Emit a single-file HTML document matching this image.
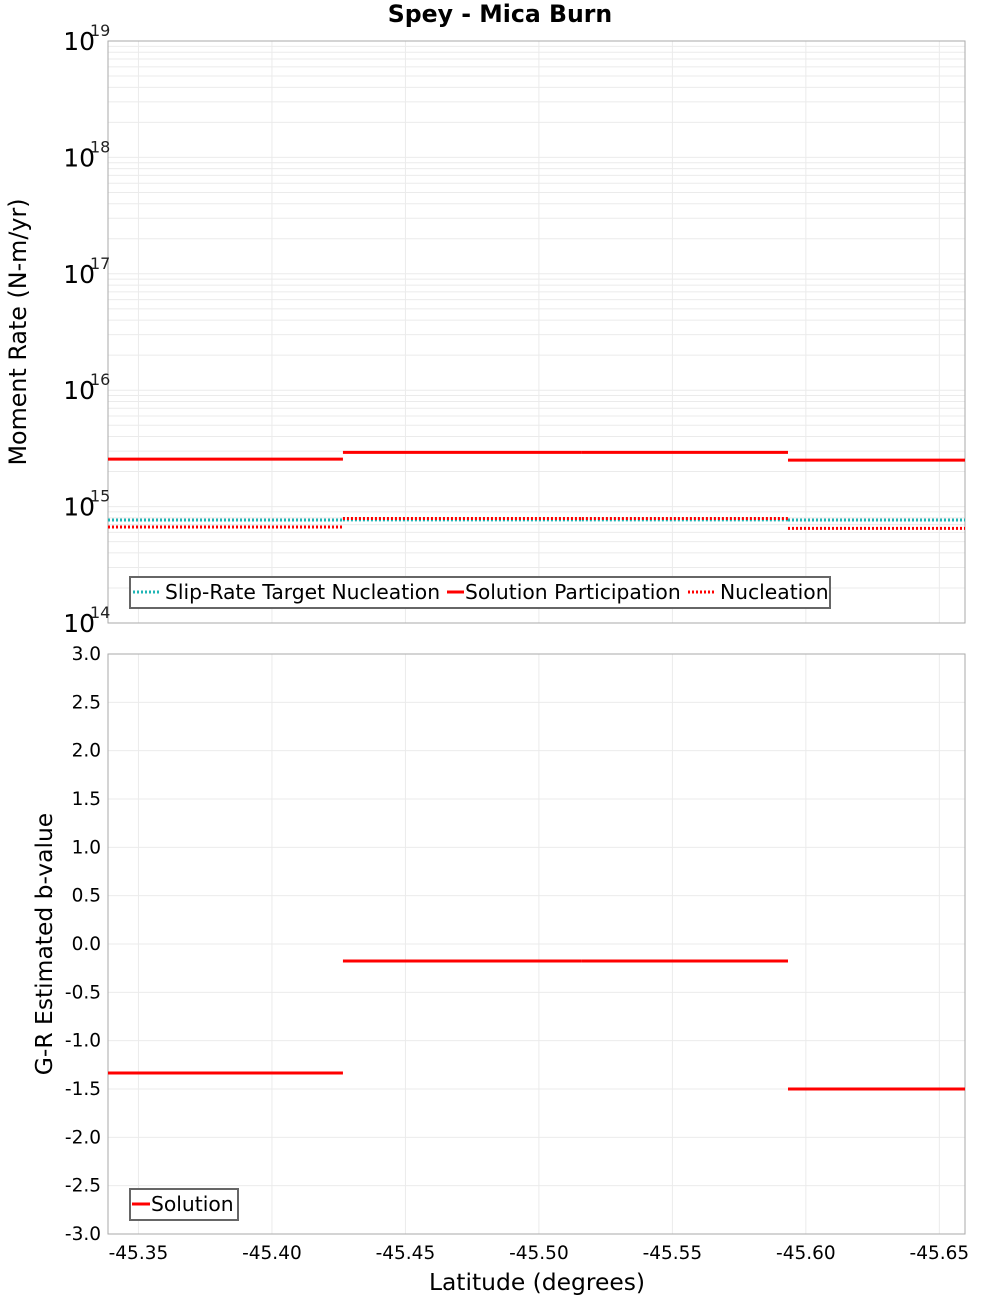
<!DOCTYPE html>
<html><head><meta charset="utf-8"><style>
body{margin:0;background:#fff;}
svg{display:block;font-family:"DejaVu Sans","Liberation Sans",sans-serif;}
</style></head><body>
<svg id="chart" width="1000" height="1300" xmlns="http://www.w3.org/2000/svg"></svg>
<script>
// Data
const segStarts = [-45.3386, -45.4266, -45.5161, -45.5933];
const segEnds   = [-45.4266, -45.5161, -45.5933, -45.6596];
const targetNucleation = [7.67e14, 7.7e14, 7.7e14, 7.67e14];
const solutionParticipation = [2.56e15, 2.92e15, 2.92e15, 2.51e15];
const nucleation = [6.68e14, 7.9e14, 7.9e14, 6.5e14];
const bValues = [-1.334, -0.176, -0.176, -1.5];
const xTicks = [-45.35, -45.40, -45.45, -45.50, -45.55, -45.60, -45.65];
const xTickLabels = ["-45.35","-45.40","-45.45","-45.50","-45.55","-45.60","-45.65"];
const logDecades = [14, 15, 16, 17, 18, 19];
const bTicks = [3.0,2.5,2.0,1.5,1.0,0.5,0.0,-0.5,-1.0,-1.5,-2.0,-2.5,-3.0];

const svg = document.getElementById('chart');
const NS = 'http://www.w3.org/2000/svg';
const L = 108, R = 965;
const T1 = 41, B1 = 623, T2 = 654, B2 = 1234;
const xMin = -45.3386, xMax = -45.6596;
function X(v){ return L + (v - xMin) / (xMax - xMin) * (R - L); }
function Y1(v){ return B1 - (Math.log10(v) - 14) / 5 * (B1 - T1); }
function Y2(v){ return B2 - (v + 3) / 6 * (B2 - T2); }
function el(tag, attrs, parent){ const e = document.createElementNS(NS, tag); for (const k in attrs) e.setAttribute(k, attrs[k]); (parent||svg).appendChild(e); return e; }

const p1 = el('rect', {x:L, y:T1, width:R-L, height:B1-T1, fill:'#fff'});


const p2 = el('rect', {x:L, y:T2, width:R-L, height:B2-T2, fill:'#fff'});



const grid = el('g', {stroke:'#ebebeb', 'stroke-width':1});


xTicks.forEach(t => {
  const x = X(t);
  el('line', {x1:x, x2:x, y1:T1, y2:B1}, grid);
  el('line', {x1:x, x2:x, y1:T2, y2:B2}, grid);
});
for (let d = 14; d < 19; d++) {
  for (let m = 1; m <= 9; m++) {
    const y = Y1(m * Math.pow(10, d));
    el('line', {x1:L, x2:R, y1:y, y2:y}, grid);
  }
}
bTicks.forEach(t => { const y = Y2(t); el('line', {x1:L, x2:R, y1:y, y2:y}, grid); });

el('rect', {x:L, y:T1, width:R-L, height:B1-T1, fill:'none', stroke:'#aaa'});
el('rect', {x:L, y:T2, width:R-L, height:B2-T2, fill:'none', stroke:'#aaa'});

function drawSegs(vals, color, dash, name, Yf){
  const g = el('g', {stroke:color, 'stroke-width':3, fill:'none'});
  
  
  vals.forEach((v, i) => {
    const ln = el('line', {x1:X(segStarts[i]), x2:X(segEnds[i]), y1:Yf(v), y2:Yf(v)}, g);
    if (dash) ln.setAttribute('stroke-dasharray', dash);
    
    
  });
}
drawSegs(targetNucleation, '#1fb5b5', '2,2', 'slip-rate-target-nucleation', Y1);
drawSegs(solutionParticipation, '#ff0000', null, 'solution-participation', Y1);
drawSegs(nucleation, '#ff0000', '2,2', 'nucleation', Y1);
drawSegs(bValues, '#ff0000', null, 'b-value-solution', Y2);

const title = el('text', {x:500, y:22, 'text-anchor':'middle', 'font-size':23.6, 'font-weight':'bold'});
title.textContent = 'Spey - Mica Burn';



logDecades.forEach(d => {
  const y = Y1(Math.pow(10, d));
  const t = el('text', {x:95, y:y+9, 'text-anchor':'end', 'font-size':25});
  t.textContent = '10';
  
  
  const s = el('text', {x:90, y:y-5, 'font-size':16, fill:'#222'});
  s.textContent = String(d);
  
  
});
bTicks.forEach(v => {
  const t = el('text', {x:101, y:Y2(v)+6, 'text-anchor':'end', 'font-size':18.5});
  t.textContent = v.toFixed(1);
  
  
});
xTicks.forEach((v, i) => {
  const t = el('text', {x:X(v), y:1259, 'text-anchor':'middle', 'font-size':18.5});
  t.textContent = xTickLabels[i];
  
  
});

const xt = el('text', {x:537, y:1290, 'text-anchor':'middle', 'font-size':23.4});
xt.textContent = 'Latitude (degrees)';


const yt1 = el('text', {x:0, y:0, 'text-anchor':'middle', 'font-size':23.8, transform:'translate(26,332) rotate(-90)'});
yt1.textContent = 'Moment Rate (N-m/yr)';


const yt2 = el('text', {x:0, y:0, 'text-anchor':'middle', 'font-size':23.4, transform:'translate(52,944) rotate(-90)'});
yt2.textContent = 'G-R Estimated b-value';



const lg1 = el('g', {});


el('rect', {x:130, y:577, width:700, height:31, fill:'#fff', stroke:'#666', 'stroke-width':2}, lg1);
const items = [
  {x:133, tx:165, lbl:'Slip-Rate Target Nucleation', c:'#1fb5b5', d:'2,2', n:'legend-entry-target'},
  {x:447, tx:465, lbl:'Solution Participation', c:'#ff0000', d:null, n:'legend-entry-participation'},
  {x:688, tx:720, lbl:'Nucleation', c:'#ff0000', d:'2,2', n:'legend-entry-nucleation'}
];
items.forEach(it => {
  const g = el('g', {}, lg1);
  
  
  const ln = el('line', {x1:it.x, x2:it.x+(it.d?28:17), y1:592, y2:592, stroke:it.c, 'stroke-width':3}, g);
  if (it.d) ln.setAttribute('stroke-dasharray', it.d);
  const t = el('text', {x:it.tx, y:599, 'font-size':20.3}, g);
  t.textContent = it.lbl;
});
const lg2 = el('g', {});


el('rect', {x:130, y:1189, width:108, height:31, fill:'#fff', stroke:'#666', 'stroke-width':2}, lg2);
el('line', {x1:132, x2:150, y1:1204, y2:1204, stroke:'#ff0000', 'stroke-width':3}, lg2);
const t2 = el('text', {x:151, y:1211, 'font-size':20.3}, lg2);
t2.textContent = 'Solution';
</script>
</body></html>
